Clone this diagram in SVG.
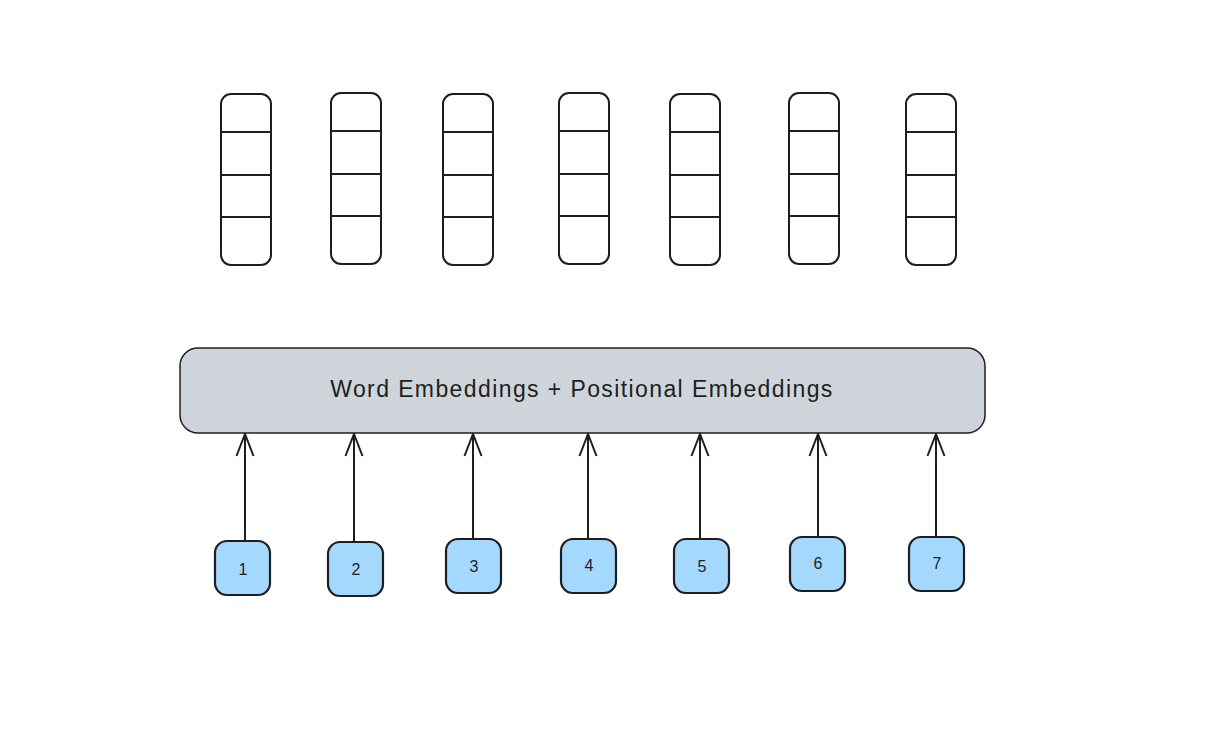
<svg xmlns="http://www.w3.org/2000/svg" width="1224" height="733" viewBox="0 0 1224 733">
<defs>
<style>
.vec{fill:#ffffff;stroke:#1e1e1e;stroke-width:2}
.div{stroke:#1e1e1e;stroke-width:2}
.emb{fill:#ced4da;stroke:#1e1e1e;stroke-width:1.5}
.tok{fill:#a5d8ff;stroke:#1e1e1e;stroke-width:2.2}
.conn{stroke:#1e1e1e;stroke-width:2;fill:none}
.lbl{font-family:"Liberation Sans",Arial,sans-serif;fill:#1e1e1e;text-anchor:middle;dominant-baseline:central}
</style>
<marker id="ah" viewBox="0 0 24 20" refX="23" refY="10" markerWidth="24" markerHeight="20" markerUnits="userSpaceOnUse" orient="auto">
<path d="M1,1.5 L23,10 L1,18.5" fill="none" stroke="#1e1e1e" stroke-width="2"/>
</marker>
</defs>
<rect width="1224" height="733" fill="#ffffff"/>
<g id="vectors">
<g id="vec1"><rect class="vec" x="221" y="94" width="50" height="171" rx="10"/><path class="div" d="M221,132H271M221,175H270M221,217H271"/></g>
<g id="vec2"><rect class="vec" x="331" y="93" width="50" height="171" rx="10"/><path class="div" d="M331,131H381M331,174H380M331,216H381"/></g>
<g id="vec3"><rect class="vec" x="443" y="94" width="50" height="171" rx="10"/><path class="div" d="M443,132H493M443,175H492M443,217H493"/></g>
<g id="vec4"><rect class="vec" x="559" y="93" width="50" height="171" rx="10"/><path class="div" d="M559,131H609M559,174H608M559,216H609"/></g>
<g id="vec5"><rect class="vec" x="670" y="94" width="50" height="171" rx="10"/><path class="div" d="M670,132H720M670,175H719M670,217H720"/></g>
<g id="vec6"><rect class="vec" x="789" y="93" width="50" height="171" rx="10"/><path class="div" d="M789,131H839M789,174H838M789,216H839"/></g>
<g id="vec7"><rect class="vec" x="906" y="94" width="50" height="171" rx="10"/><path class="div" d="M906,132H956M906,175H955M906,217H956"/></g>
</g>
<g id="embeddings">
<rect class="emb" x="180" y="348" width="805" height="85" rx="18"/>
<text class="lbl" x="582" y="389" font-size="23" letter-spacing="1.4">Word Embeddings + Positional Embeddings</text>
</g>
<g id="connectors">
<line class="conn" x1="245" y1="541" x2="245" y2="434" marker-end="url(#ah)"/>
<line class="conn" x1="354" y1="542" x2="354" y2="434" marker-end="url(#ah)"/>
<line class="conn" x1="473" y1="539" x2="473" y2="434" marker-end="url(#ah)"/>
<line class="conn" x1="588" y1="539" x2="588" y2="434" marker-end="url(#ah)"/>
<line class="conn" x1="700" y1="539" x2="700" y2="434" marker-end="url(#ah)"/>
<line class="conn" x1="818" y1="537" x2="818" y2="434" marker-end="url(#ah)"/>
<line class="conn" x1="936" y1="537" x2="936" y2="434" marker-end="url(#ah)"/>
</g>
<g id="tok1"><rect class="tok" x="215" y="541" width="55" height="54" rx="12"/><text class="lbl" x="243" y="569" font-size="16">1</text></g>
<g id="tok2"><rect class="tok" x="328" y="542" width="55" height="54" rx="12"/><text class="lbl" x="356" y="569" font-size="16">2</text></g>
<g id="tok3"><rect class="tok" x="446" y="539" width="55" height="54" rx="12"/><text class="lbl" x="474" y="566" font-size="16">3</text></g>
<g id="tok4"><rect class="tok" x="561" y="539" width="55" height="54" rx="12"/><text class="lbl" x="589" y="565" font-size="16">4</text></g>
<g id="tok5"><rect class="tok" x="674" y="539" width="55" height="54" rx="12"/><text class="lbl" x="702" y="566" font-size="16">5</text></g>
<g id="tok6"><rect class="tok" x="790" y="537" width="55" height="54" rx="12"/><text class="lbl" x="818" y="563" font-size="16">6</text></g>
<g id="tok7"><rect class="tok" x="909" y="537" width="55" height="54" rx="12"/><text class="lbl" x="937" y="563" font-size="16">7</text></g>
</svg>
